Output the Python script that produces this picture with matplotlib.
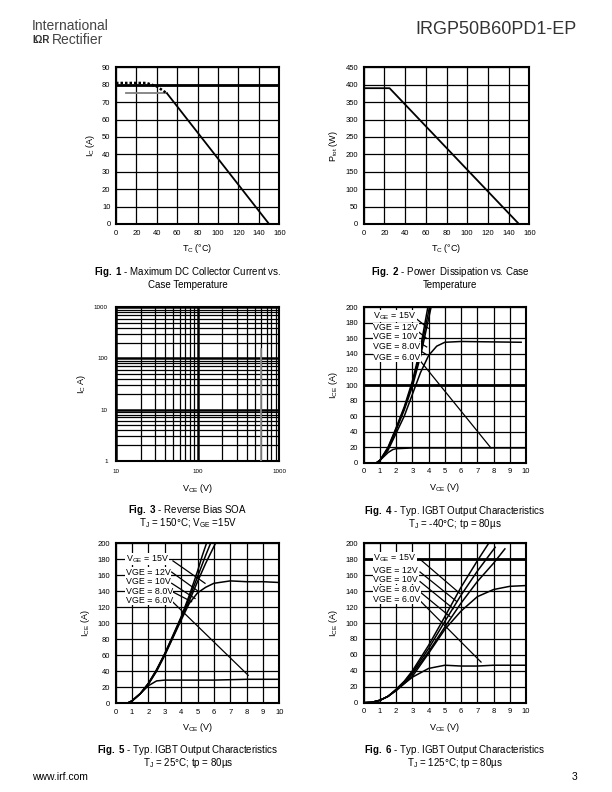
import matplotlib
matplotlib.use('Agg')
import matplotlib.pyplot as plt
import numpy as np

plt.rcParams['font.family'] = ['Liberation Sans', 'DejaVu Sans']
plt.rcParams['mathtext.fontset'] = 'custom'
plt.rcParams['mathtext.rm'] = 'Liberation Sans'
plt.rcParams['mathtext.it'] = 'Liberation Sans'
plt.rcParams['mathtext.bf'] = 'Liberation Sans:bold'

# Fig. 1 - max DC collector current vs case temperature
f1_tc_solid = [10, 50, 150]
f1_ic_solid = [75, 75, 0]
f1_tc_dot = [0, 30, 40, 50]
f1_ic_dot = [81, 81, 79, 75]

# Fig. 2 - power dissipation
f2_tc = [0, 25, 150]
f2_ptot = [390, 390, 0]

# Fig. 3 - RBSOA
f3_vce = [600, 600]
f3_ic = [1, 150]

labels = ['V$_{GE}$ = 15V', 'VGE = 12V', 'VGE = 10V', 'VGE = 8.0V', 'VGE = 6.0V']

# Fig. 4 - Tj = -40C
f4_v15 = [0.8, 1, 1.5, 2, 2.5, 3, 3.5, 3.95]
f4_i15 = [0, 3, 20, 45, 72, 105, 148, 200]
f4_v12 = [0.8, 1, 1.5, 2, 2.5, 3, 3.5, 4.05]
f4_i12 = [0, 3, 19, 44, 70, 102, 143, 200]
f4_v10 = [0.8, 1, 1.5, 2, 2.5, 3, 3.5, 4.15]
f4_i10 = [0, 3, 18, 42, 68, 98, 137, 200]
f4_v8 = [0.8, 1, 1.5, 2, 2.5, 3, 3.5, 4, 4.5, 5, 6, 9.7]
f4_i8 = [0, 3, 16, 38, 60, 88, 116, 138, 150, 155, 156, 155]
f4_v6 = [0.8, 1, 1.5, 1.8, 2, 3, 6.5, 10]
f4_i6 = [0, 3, 13, 17, 18, 19, 19, 19]

# Fig. 5 - Tj = 25C
f5_v15 = [0, 0.7, 1, 1.5, 2, 2.5, 3, 3.5, 4, 4.5, 5, 5.3, 5.55]
f5_i15 = [0, 0, 3, 12, 25, 42, 62, 85, 108, 135, 165, 185, 200]
f5_v12 = [0, 0.7, 1, 1.5, 2, 2.5, 3, 3.5, 4, 4.5, 5, 5.5, 5.8]
f5_i12 = [0, 0, 3, 12, 25, 42, 62, 84, 107, 132, 158, 185, 200]
f5_v10 = [0, 0.7, 1, 1.5, 2, 2.5, 3, 3.5, 4, 4.5, 5, 5.5, 6.1]
f5_i10 = [0, 0, 3, 12, 24, 41, 61, 83, 106, 128, 152, 175, 200]
f5_v8 = [0, 0.7, 1, 1.5, 2, 2.5, 3, 3.5, 4, 4.5, 5, 5.5, 6, 7, 8, 9, 10]
f5_i8 = [0, 0, 3, 12, 24, 40, 60, 82, 104, 125, 138, 145, 150, 153, 152, 152, 151]
f5_v6 = [0, 0.7, 1, 1.5, 2, 2.5, 3, 4, 6, 8, 10]
f5_i6 = [0, 0, 3, 12, 22, 28, 29, 29, 29, 30, 30]

# Fig. 6 - Tj = 125C
f6_v15 = [0, 0.5, 1, 1.5, 2, 2.5, 3, 4, 5, 6, 7, 7.7]
f6_i15 = [0, 0.5, 3, 8, 17, 27, 40, 72, 108, 145, 178, 200]
f6_v12 = [0, 0.5, 1, 1.5, 2, 2.5, 3, 4, 5, 6, 7, 8.1]
f6_i12 = [0, 0.5, 3, 8, 16, 26, 38, 68, 102, 135, 165, 195]
f6_v10 = [0, 0.5, 1, 1.5, 2, 2.5, 3, 4, 5, 6, 7, 8, 8.7]
f6_i10 = [0, 0.5, 3, 8, 16, 25, 36, 64, 95, 125, 152, 175, 193]
f6_v8 = [0, 0.5, 1, 1.5, 2, 2.5, 3, 4, 5, 6, 7, 8, 9, 10]
f6_i8 = [0, 0.5, 3, 8, 15, 24, 33, 62, 92, 115, 133, 142, 146, 147]
f6_v6 = [0, 0.5, 1, 1.5, 2, 2.5, 3, 4, 5, 6, 7, 8, 10]
f6_i6 = [0, 0.5, 3, 8, 16, 24, 32, 43, 47, 46, 46, 47, 47]

# label text y and leader lines (x0, y0, x1, y1)
f4_lab_y = [189, 174, 162, 149, 136]
f4_lead = [(3.26, 185, 3.98, 173), (3.22, 171, 3.88, 160), (3.16, 158, 3.88, 149),
           (3.26, 147, 3.88, 139), (3.37, 134, 7.84, 19)]
f5_lab_y = [180, 164, 152, 140, 129]
f5_lead = [(3.5, 178, 5.46, 150), (3.42, 164, 5.05, 140), (3.42, 150, 4.85, 131),
           (3.42, 140, 4.64, 127), (3.42, 128, 8.1, 35)]
f6_lab_y = [181, 166, 155, 142, 130]
f6_lead = [(3.47, 180, 5.93, 137), (3.47, 164, 5.73, 127), (3.47, 152, 5.52, 118),
           (3.47, 139, 5.32, 108), (3.47, 128, 7.23, 51)]

fig = plt.figure(figsize=(6.12, 7.92), dpi=100)


def px_axes(l, t, r, b):
    return fig.add_axes([l / 612, 1 - b / 792, (r - l) / 612, (b - t) / 792])


def style_lin(ax, xt, yt, thick=None):
    ax.set_xlim(xt[0], xt[-1])
    ax.set_ylim(yt[0], yt[-1])
    ax.set_xticks(xt)
    ax.set_yticks(yt)
    ax.tick_params(length=0, labelsize=5.5, pad=4)
    ax.grid(True, color='black', lw=0.9)
    ax.set_axisbelow(True)
    for s in ax.spines.values():
        s.set_linewidth(1.5)
    if thick is not None:
        ax.axhline(thick, color='black', lw=2.0, zorder=1)


def output_chart(ax, curves, lab_y, lead):
    style_lin(ax, list(range(0, 11)), list(range(0, 201, 20)))
    for v, i in curves:
        ax.plot(v, i, color='black', lw=1.1, zorder=3)
    for txt, y in zip(labels, lab_y):
        ax.text(0.6, y, txt, fontsize=6.4, va='center', ha='left', zorder=4,
                bbox=dict(facecolor='white', edgecolor='none', pad=0.3))
    for x0, y0, x1, y1 in lead:
        ax.plot([x0, x1], [y0, y1], color='black', lw=0.9, zorder=3)
    ax.set_xlabel('V$_{CE}$ (V)', fontsize=6.5, labelpad=4)
    ax.set_ylabel('I$_{CE}$ (A)', fontsize=6.5, labelpad=4)


# Fig 1
ax1 = px_axes(116, 67.3, 279.3, 224)
style_lin(ax1, list(range(0, 161, 20)), list(range(0, 91, 10)), thick=80)
ax1.plot(f1_tc_solid[:2], f1_ic_solid[:2], color='#808080', lw=1.3, zorder=3)
ax1.plot(f1_tc_solid[1:], f1_ic_solid[1:], color='black', lw=1.3, zorder=3)
ax1.plot(f1_tc_dot, f1_ic_dot, color='black', lw=1.8, ls=(0, (1.0, 0.8)), zorder=3)
ax1.set_xlabel('T$_C$ (°C)', fontsize=6.5, labelpad=4)
ax1.set_ylabel('I$_C$ (A)', fontsize=6.5, labelpad=4)

# Fig 2
ax2 = px_axes(363.7, 67.3, 529.3, 224)
style_lin(ax2, list(range(0, 161, 20)), list(range(0, 451, 50)))
ax2.plot(f2_tc, f2_ptot, color='black', lw=1.3, zorder=3)
ax2.set_xlabel('T$_C$ (°C)', fontsize=6.5, labelpad=4)
ax2.set_ylabel('P$_{tot}$ (W)', fontsize=6.5, labelpad=4)

# Fig 3
ax3 = px_axes(116, 307.3, 279.3, 460.7)
ax3.set_xscale('log')
ax3.set_yscale('log')
ax3.set_xlim(10, 1000)
ax3.set_ylim(1, 1000)
ax3.set_xticks([10, 100, 1000])
ax3.set_xticklabels(['10', '100', '1000'])
ax3.set_yticks([1, 10, 100, 1000])
ax3.set_yticklabels(['1', '10', '100', '1000'])
ax3.tick_params(which='both', length=0, labelsize=4.5, pad=6)
ax3.grid(True, which='major', color='black', lw=1.8)
ax3.grid(True, which='minor', color='black', lw=0.9)
ax3.set_axisbelow(True)
for s in ax3.spines.values():
    s.set_linewidth(1.5)
ax3.plot(f3_vce, f3_ic, color='#909090', lw=1.2, zorder=3)
ax3.set_xlabel('V$_{CE}$ (V)', fontsize=6.5, labelpad=6)
ax3.set_ylabel('I$_C$ A)', fontsize=6.5, labelpad=4)

# Fig 4
ax4 = px_axes(363.7, 307.3, 526, 462.7)
output_chart(ax4, [(f4_v15, f4_i15), (f4_v12, f4_i12), (f4_v10, f4_i10),
                   (f4_v8, f4_i8), (f4_v6, f4_i6)], f4_lab_y, f4_lead)
ax4.axhline(100, color='black', lw=2.0, zorder=1)

# Fig 5
ax5 = px_axes(115.7, 543.3, 279.3, 703.3)
output_chart(ax5, [(f5_v15, f5_i15), (f5_v12, f5_i12), (f5_v10, f5_i10),
                   (f5_v8, f5_i8), (f5_v6, f5_i6)], f5_lab_y, f5_lead)

# Fig 6
ax6 = px_axes(363.7, 543.3, 526, 702.7)
output_chart(ax6, [(f6_v15, f6_i15), (f6_v12, f6_i12), (f6_v10, f6_i10),
                   (f6_v8, f6_i8), (f6_v6, f6_i6)], f6_lab_y, f6_lead)
ax6.axhline(180, color='black', lw=2.0, zorder=1)


# page texts
def ftxt(x, y, s, **kw):
    fig.text(x / 612, 1 - y / 792, s, **kw)


ftxt(32, 26, 'International', fontsize=10, color='#444444', va='center')
ftxt(32, 40, 'IΩR', fontsize=7, fontweight='bold', color='#333333', va='center')
ftxt(52, 40, 'Rectifier', fontsize=10, color='#444444', va='center')
ftxt(577, 29, 'IRGP50B60PD1-EP', fontsize=13, color='#333333', ha='right', va='center')


def caption(xc, y, num, rest, sub):
    ftxt(xc, y, r'$\mathbf{Fig.\ ' + num + r'}$ - ' + rest, fontsize=7, ha='center', va='center')
    ftxt(xc, y + 13, sub, fontsize=7, ha='center', va='center')


caption(188, 272, '1', 'Maximum DC Collector Current vs.', 'Case Temperature')
caption(450, 272, '2', 'Power  Dissipation vs. Case', 'Temperature')
caption(188, 510, '3', 'Reverse Bias SOA', 'T$_J$ = 150°C; V$_{GE}$ =15V')
caption(455, 511, '4', 'Typ. IGBT Output Characteristics', 'T$_J$ = -40°C; tp = 80µs')
caption(188, 750, '5', 'Typ. IGBT Output Characteristics', 'T$_J$ = 25°C; tp = 80µs')
caption(455, 750, '6', 'Typ. IGBT Output Characteristics', 'T$_J$ = 125°C; tp = 80µs')

ftxt(32, 777, 'www.irf.com', fontsize=7.5, va='center')
ftxt(577, 777, '3', fontsize=7.5, ha='right', va='center')

fig.savefig('out.png', dpi=100)
